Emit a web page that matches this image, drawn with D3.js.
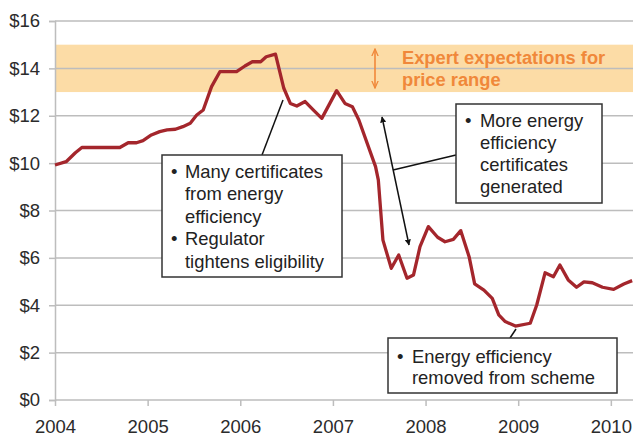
<!DOCTYPE html>
<html>
<head>
<meta charset="utf-8">
<script src="https://cdn.jsdelivr.net/npm/d3@7"></script>
<style>
  body { margin: 0; background: #fff; }
  text { font-family: "Liberation Sans", Arial, sans-serif; }
</style>
</head>
<body>
<script>
// price of certificates (decimal year, $)
const years = [2004.00, 2004.12, 2004.22, 2004.29, 2004.70, 2004.79, 2004.88, 2004.95,
  2005.04, 2005.13, 2005.21, 2005.30, 2005.38, 2005.46, 2005.53, 2005.60, 2005.69, 2005.78, 2005.96,
  2006.05, 2006.13, 2006.22, 2006.28, 2006.38, 2006.47, 2006.54, 2006.61, 2006.70, 2006.79, 2006.88,
  2007.04, 2007.13, 2007.21, 2007.28, 2007.46, 2007.49, 2007.54, 2007.63, 2007.71, 2007.80, 2007.87, 2007.94,
  2008.03, 2008.13, 2008.21, 2008.30, 2008.38, 2008.47, 2008.53, 2008.63, 2008.72, 2008.79, 2008.86, 2008.97,
  2009.13, 2009.20, 2009.29, 2009.38, 2009.45, 2009.54, 2009.63, 2009.71, 2009.80, 2009.91,
  2010.03, 2010.14, 2010.23];
const prices = [9.92, 10.06, 10.44, 10.66, 10.66, 10.86, 10.86, 10.95,
  11.19, 11.33, 11.40, 11.43, 11.54, 11.68, 12.03, 12.24, 13.23, 13.86, 13.86,
  14.10, 14.28, 14.28, 14.49, 14.60, 13.16, 12.52, 12.41, 12.60, 12.24, 11.89,
  13.06, 12.52, 12.38, 11.82, 9.85, 9.29, 6.75, 5.56, 6.12, 5.14, 5.28, 6.47,
  7.32, 6.87, 6.68, 6.78, 7.15, 6.05, 4.90, 4.64, 4.29, 3.59, 3.31, 3.12,
  3.24, 4.01, 5.37, 5.20, 5.70, 5.07, 4.76, 4.99, 4.95, 4.76,
  4.67, 4.90, 5.04];

const yearTicks = [2004, 2005, 2006, 2007, 2008, 2009, 2010];
const priceTicks = [0, 2, 4, 6, 8, 10, 12, 14, 16];
const expertRange = [13, 15];

const box1Lines = ["Many certificates", "from energy", "efficiency", "Regulator", "tightens eligibility"];
const box1Bullets = [0, 3];
const box2Lines = ["More energy", "efficiency", "certificates", "generated"];
const box3Lines = ["Energy efficiency", "removed from scheme"];

const width = 633, height = 437;

const x = d3.scaleLinear().domain([2004, 2010.25]).range([55, 634]);
const y = d3.scaleLinear().domain([0, 16]).range([400, 21]);

const svg = d3.select("body").append("svg").attr("width", width).attr("height", height);

// arrow heads
const defs = svg.append("defs");
defs.append("marker").attr("id", "headBlack").attr("viewBox", "0 0 10 10")
  .attr("refX", 9).attr("refY", 5).attr("markerWidth", 4).attr("markerHeight", 4)
  .attr("orient", "auto-start-reverse")
  .append("path").attr("d", "M0,0 L10,5 L0,10 Z").attr("fill", "#111");
defs.append("marker").attr("id", "headOrange").attr("viewBox", "0 0 10 10")
  .attr("refX", 9).attr("refY", 5).attr("markerWidth", 5).attr("markerHeight", 5)
  .attr("orient", "auto-start-reverse")
  .append("path").attr("d", "M0,1 L9,5 L0,9").attr("fill", "none").attr("stroke", "#f0883a").attr("stroke-width", 1.6);

// expectation band
svg.append("rect")
  .attr("x", x(2004)).attr("y", y(expertRange[1]))
  .attr("width", width - x(2004)).attr("height", y(expertRange[0]) - y(expertRange[1]))
  .attr("fill", "#fcdca6");

// grid lines
svg.append("g").selectAll("line").data(priceTicks).join("line")
  .attr("x1", x(2004)).attr("x2", width)
  .attr("y1", d => y(d)).attr("y2", d => y(d))
  .attr("stroke", "#bdbdbd").attr("stroke-width", 1.5);

// y axis
const yAxis = svg.append("g").attr("transform", "translate(" + x(2004) + ",0)")
  .call(d3.axisLeft(y).tickValues(priceTicks).tickSize(6).tickPadding(9).tickFormat(d => "$" + d));
yAxis.select(".domain").attr("stroke", "#bdbdbd").attr("stroke-width", 1.5);
yAxis.selectAll(".tick line").attr("stroke", "#bdbdbd").attr("stroke-width", 1.5);
yAxis.selectAll("text").attr("font-size", 18.5).attr("fill", "#2b2b2b")
  .style("font-family", "'Liberation Sans', Arial, sans-serif");

// x axis
const xAxis = svg.append("g").attr("transform", "translate(0," + y(0) + ")")
  .call(d3.axisBottom(x).tickValues(yearTicks).tickSize(6).tickPadding(14).tickFormat(d3.format("d")));
xAxis.select(".domain").remove();
xAxis.selectAll(".tick line").attr("stroke", "#bdbdbd").attr("stroke-width", 1.5);
xAxis.selectAll("text").attr("font-size", 18.5).attr("fill", "#2b2b2b")
  .style("font-family", "'Liberation Sans', Arial, sans-serif");

// price line
const line = d3.line().x((d, i) => x(years[i])).y(d => y(d));
svg.append("path").datum(prices)
  .attr("d", line)
  .attr("fill", "none").attr("stroke", "#a4262c").attr("stroke-width", 3.3)
  .attr("stroke-linejoin", "round");

// expert expectations label
svg.append("line").attr("x1", 375).attr("y1", 49).attr("x2", 375).attr("y2", 88)
  .attr("stroke", "#f0883a").attr("stroke-width", 1.6)
  .attr("marker-start", "url(#headOrange)").attr("marker-end", "url(#headOrange)");
svg.append("text").attr("x", 402).attr("y", 64).attr("font-size", 18.3).attr("font-weight", "bold")
  .attr("fill", "#f0883a").text("Expert expectations for");
svg.append("text").attr("x", 402).attr("y", 86).attr("font-size", 18.3).attr("font-weight", "bold")
  .attr("fill", "#f0883a").text("price range");

// annotation lines
svg.append("line").attr("x1", 262).attr("y1", 155).attr("x2", 283).attr("y2", 100)
  .attr("stroke", "#111").attr("stroke-width", 1.5);
svg.append("line").attr("x1", 382).attr("y1", 117).attr("x2", 409).attr("y2", 245)
  .attr("stroke", "#111").attr("stroke-width", 1.5)
  .attr("marker-start", "url(#headBlack)").attr("marker-end", "url(#headBlack)");
svg.append("line").attr("x1", 456).attr("y1", 155).attr("x2", 393).attr("y2", 170)
  .attr("stroke", "#111").attr("stroke-width", 1.5);
svg.append("line").attr("x1", 510).attr("y1", 338).attr("x2", 516).attr("y2", 329)
  .attr("stroke", "#111").attr("stroke-width", 1.5);

function makeBox(left, top, w, h, lines, bullets, textX, firstBaseline, step) {
  const g = svg.append("g");
  g.append("rect").attr("x", left).attr("y", top).attr("width", w).attr("height", h)
    .attr("fill", "#fff").attr("stroke", "#333").attr("stroke-width", 1.5);
  lines.forEach((t, i) => {
    g.append("text").attr("x", textX).attr("y", firstBaseline + i * step)
      .attr("font-size", 18.4).attr("fill", "#222").text(t);
    if (bullets.indexOf(i) >= 0) {
      g.append("text").attr("x", left + 9).attr("y", firstBaseline + i * step)
        .attr("font-size", 18.4).attr("fill", "#222").text("\u2022");
    }
  });
}

makeBox(162, 155, 180, 122, box1Lines, box1Bullets, 185, 178, 22.4);
makeBox(456, 104, 146, 99, box2Lines, [0], 480, 127, 22);
makeBox(388, 338, 229, 55, box3Lines, [0], 412, 363, 20.5);
</script>
</body>
</html>
